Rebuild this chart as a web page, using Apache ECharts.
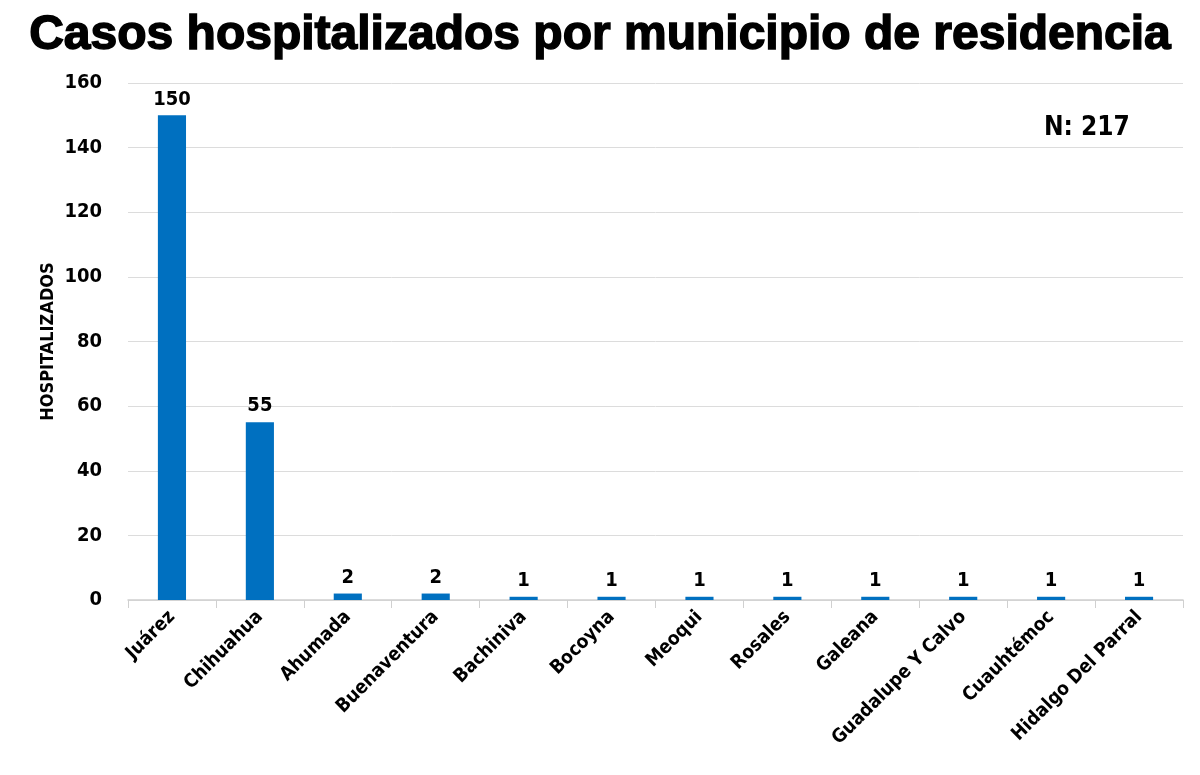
<!DOCTYPE html>
<html>
<head>
<meta charset="utf-8">
<script src="https://cdn.jsdelivr.net/npm/echarts@6/dist/echarts.min.js"></script>
<style>
  html, body { margin: 0; padding: 0; background: #fff; }
  #container { width: 1200px; height: 775px; }
</style>
</head>
<body>
<div id="container"></div>
<script>
(function() {
"use strict";

    var municipios = ['Juárez', 'Chihuahua', 'Ahumada', 'Buenaventura', 'Bachiniva', 'Bocoyna',
        'Meoqui', 'Rosales', 'Galeana', 'Guadalupe Y Calvo', 'Cuauhtémoc', 'Hidalgo Del Parral'];
    var hospitalizados = [150, 55, 2, 2, 1, 1, 1, 1, 1, 1, 1, 1];
    var totalLabel = 'N: 217';

    var narrow = '"DejaVu Sans Condensed", "Liberation Sans Narrow", sans-serif';

    var dom = document.getElementById("container");
    var myChart = echarts.init(dom);
    var option = {
        animation: false,
        title: {
            text: 'Casos hospitalizados por municipio de residencia',
            left: 'center',
            top: 7,
            textStyle: {
                fontFamily: '"Liberation Sans", Arial, sans-serif',
                fontWeight: 900,
                fontSize: 48,
                color: '#000',
                textBorderColor: '#000',
                textBorderWidth: 1.5
            }
        },
        graphic: [{
            type: 'text',
            left: 1044,
            top: 115,
            style: {
                text: totalLabel,
                font: 'bold 26px ' + narrow,
                fill: '#000'
            }
        }],
        grid: {
            left: 128,
            right: 17,
            top: 83,
            bottom: 175
        },
        xAxis: {
            type: 'category',
            data: municipios,
            axisLine: { lineStyle: { color: '#d0d0d0', width: 1.5 } },
            axisTick: { show: true, length: 8, lineStyle: { color: '#d0d0d0' } },
            axisLabel: {
                rotate: 45,
                interval: 0,
                margin: 14,
                fontFamily: narrow,
                fontWeight: 'bold',
                fontSize: 19,
                color: '#000'
            }
        },
        yAxis: {
            type: 'value',
            min: 0,
            max: 160,
            interval: 20,
            name: 'HOSPITALIZADOS',
            nameLocation: 'middle',
            nameMoveOverlap: false,
            nameGap: 71,
            nameRotate: 90,
            nameTextStyle: {
                fontFamily: narrow,
                fontWeight: 'bold',
                fontSize: 18,
                color: '#000'
            },
            axisLine: { show: false },
            axisTick: { show: false },
            splitLine: { lineStyle: { color: '#dcdcdc', width: 1 } },
            axisLabel: {
                margin: 26,
                fontFamily: narrow,
                fontWeight: 'bold',
                fontSize: 20,
                color: '#000'
            }
        },
        series: [{
            name: 'Hospitalizados',
            type: 'bar',
            data: hospitalizados,
            barWidth: '32%',
            itemStyle: { color: '#0070C0' },
            label: {
                show: true,
                position: 'top',
                distance: 6,
                fontFamily: narrow,
                fontWeight: 'bold',
                fontSize: 20,
                color: '#000'
            }
        }]
    };

    if (option && typeof option === "object") {
        myChart.setOption(option, true);
    }

})();
</script>
</body>
</html>
